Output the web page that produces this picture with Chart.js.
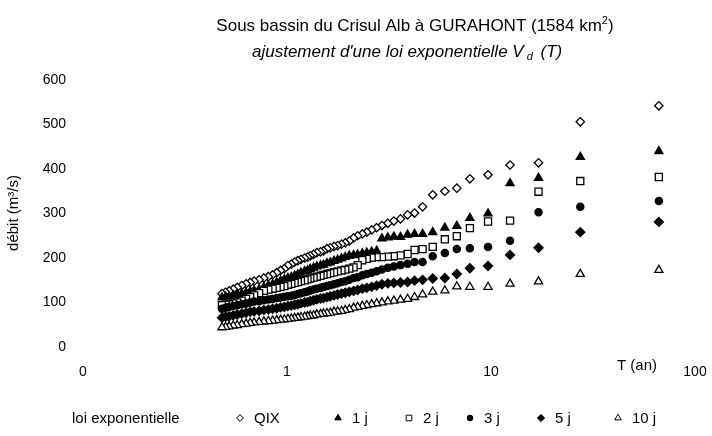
<!DOCTYPE html>
<html>
<head>
<meta charset="utf-8">
<script src="https://cdn.jsdelivr.net/npm/chart.js@4.4.1/dist/chart.umd.min.js"></script>
<style>
  html, body { margin: 0; padding: 0; background: #fff; }
</style>
</head>
<body>
<canvas id="chart" width="712" height="436"></canvas>
<script>
// return period T (years), shared by all series
const returnPeriods = [66.5, 27.4, 17.1, 12.4, 9.67, 7.88, 6.80, 5.94, 5.18, 4.62, 4.22, 3.90,
  3.60, 3.34, 3.12, 2.92, 2.75, 2.60, 2.46, 2.34, 2.22, 2.12, 2.02, 1.93, 1.85, 1.77, 1.70,
  1.63, 1.57, 1.51, 1.46, 1.40, 1.35, 1.30, 1.26, 1.22, 1.17, 1.13, 1.09, 1.05, 1.01, 0.97,
  0.93, 0.89, 0.85, 0.81, 0.77, 0.73, 0.69, 0.66, 0.63, 0.60, 0.57, 0.545, 0.52, 0.50, 0.48];

const qix = [542, 506, 414, 409, 387, 378, 357, 350, 342, 315, 301, 297,
  288, 283, 278, 273, 268, 263, 258, 254, 250, 245, 238, 234, 231, 228, 226, 223, 221, 216,
  214, 212, 208, 205, 202, 200, 197, 194, 191, 186, 183, 176, 172, 167, 162, 158, 155, 151,
  148, 145, 142, 138, 134, 130, 126, 123, 120];
const d1 = [440, 427, 380, 368, 300, 290, 272, 268, 258, 254, 254, 252,
  247, 248, 246, 244, 216, 214, 212, 210, 208, 206, 205, 202, 199, 196, 193, 190, 188, 185,
  183, 181, 178, 175, 172, 170, 167, 163, 160, 157, 155, 152, 149, 145, 141, 138, 134, 130,
  127, 125, 122, 120, 118, 116, 114, 113, 111];
const d2 = [382, 373, 349, 284, 282, 267, 249, 242, 225, 220, 218, 209,
  206, 204, 203, 202, 202, 201, 198, 195, 184, 179, 176, 174, 172, 170, 168, 166, 164, 162,
  160, 158, 156, 154, 152, 150, 148, 146, 144, 142, 140, 137, 135, 133, 131, 129, 126, 121,
  116, 112, 108, 104, 100, 98, 96, 95, 94];
const d3 = [328, 315, 303, 239, 225, 222, 220, 211, 204, 191, 191, 187,
  184, 181, 178, 174, 170, 167, 164, 161, 157, 155, 151, 148, 146, 143, 141, 139, 137, 135,
  133, 131, 129, 127, 125, 123, 121, 119, 117, 115, 114, 113, 111, 110, 108, 107, 105, 103,
  102, 100, 98, 96, 94, 92, 90, 88, 86];
const d5 = [281, 258, 223, 207, 182, 177, 164, 155, 154, 151, 149, 146,
  145, 144, 143, 141, 138, 135, 133, 131, 128, 126, 124, 122, 120, 118, 116, 114, 112, 110,
  109, 107, 105, 103, 101, 100, 98, 96, 95, 93, 92, 90, 89, 87, 86, 84, 83, 81,
  80, 79, 77, 75, 73, 71, 69, 68, 66];
const d10 = [173, 164, 147, 142, 135, 135, 136, 127, 124, 118, 112, 108,
  106, 104, 102, 100, 98, 96, 94, 92, 90, 88, 85, 83, 81, 80, 79, 77, 76, 75,
  74, 73, 71, 70, 69, 68, 67, 66, 65, 64, 63, 62, 61, 60, 59, 58, 57, 56,
  55, 54, 52, 51, 49, 48, 46, 45, 44];

const seriesNames = ['QIX', '1 j', '2 j', '3 j', '5 j', '10 j'];
const xTickValues = [0.1, 1, 10, 100];
const xTickLabels = ['0', '1', '10', '100'];
const yTickValues = [0, 100, 200, 300, 400, 500, 600];
const yTickLabels = ['0', '100', '200', '300', '400', '500', '600'];

const FONT = "'Liberation Sans', Arial, sans-serif";

const markerStyles = [
  { pointStyle: 'rectRot', radius: 4.2, fill: '#fff' },
  { pointStyle: 'triangle', radius: 4.7, fill: '#000' },
  { pointStyle: 'rect', radius: 5, fill: '#fff' },
  { pointStyle: 'circle', radius: 3.6, fill: '#000' },
  { pointStyle: 'rectRot', radius: 4.5, fill: '#000' },
  { pointStyle: 'triangle', radius: 4.7, fill: '#fff' }
];

const allSeries = [qix, d1, d2, d3, d5, d10];

const datasets = allSeries.map(function (vals, i) {
  const m = markerStyles[i];
  return {
    label: seriesNames[i],
    data: returnPeriods.map(function (t, k) { return { x: t, y: vals[k] }; }),
    pointStyle: m.pointStyle,
    pointRadius: m.radius,
    pointBackgroundColor: m.fill,
    pointBorderColor: '#000',
    pointBorderWidth: 1.3,
    showLine: false,
    order: allSeries.length - i
  };
});

function marker(ctx, style, x, y, r, fill) {
  ctx.beginPath();
  if (style === 'circle') {
    ctx.arc(x, y, r, 0, Math.PI * 2);
  } else if (style === 'rect') {
    const s = r * Math.SQRT1_2;
    ctx.rect(x - s, y - s, 2 * s, 2 * s);
  } else if (style === 'rectRot') {
    ctx.moveTo(x, y - r); ctx.lineTo(x + r, y); ctx.lineTo(x, y + r); ctx.lineTo(x - r, y);
    ctx.closePath();
  } else if (style === 'triangle') {
    ctx.moveTo(x, y - r); ctx.lineTo(x + r * 0.87, y + r * 0.5); ctx.lineTo(x - r * 0.87, y + r * 0.5);
    ctx.closePath();
  }
  ctx.fillStyle = fill;
  ctx.fill();
  ctx.strokeStyle = '#000';
  ctx.lineWidth = 1;
  ctx.stroke();
}

const textPlugin = {
  id: 'texts',
  afterDraw(chart) {
    const ctx = chart.ctx;
    ctx.save();
    ctx.fillStyle = '#000';
    ctx.textBaseline = 'alphabetic';
    ctx.textAlign = 'left';

    // title with superscript
    const t1 = 'Sous bassin du Crisul Alb à GURAHONT (1584 km';
    ctx.font = '17px ' + FONT;
    const w1 = ctx.measureText(t1).width;
    ctx.font = '11px ' + FONT;
    const wSup = ctx.measureText('2').width;
    ctx.font = '17px ' + FONT;
    const wEnd = ctx.measureText(')').width;
    let x = 415 - (w1 + wSup + wEnd) / 2;
    ctx.fillText(t1, x, 31);
    x += w1;
    ctx.font = '11px ' + FONT;
    ctx.fillText('2', x, 24);
    x += wSup;
    ctx.font = '17px ' + FONT;
    ctx.fillText(')', x, 31);

    // subtitle with subscript
    const s1 = "ajustement d'une loi exponentielle V";
    const s2 = ' (T)';
    ctx.font = 'italic 17px ' + FONT;
    const ws1 = ctx.measureText(s1).width;
    ctx.font = 'italic 11px ' + FONT;
    const wsub = ctx.measureText('d').width;
    x = 252;
    ctx.font = 'italic 17px ' + FONT;
    ctx.fillText(s1, x, 57);
    x += ws1 + 3;
    ctx.font = 'italic 11px ' + FONT;
    ctx.fillText('d', x, 60);
    x += wsub + 3;
    ctx.font = 'italic 17px ' + FONT;
    ctx.fillText(s2, x, 57);

    // y axis title
    ctx.save();
    ctx.translate(18, 213);
    ctx.rotate(-Math.PI / 2);
    ctx.textAlign = 'center';
    ctx.font = '15px ' + FONT;
    ctx.fillText('débit (m³/s)', 0, 0);
    ctx.restore();

    // x axis title
    ctx.font = '15px ' + FONT;
    ctx.fillText('T (an)', 617, 370);

    // legend
    ctx.font = '15px ' + FONT;
    ctx.fillText('loi exponentielle', 72, 423);
    const lx = [240, 338, 409, 470, 541, 618];
    seriesNames.forEach(function (name, i) {
      const m = markerStyles[i];
      marker(ctx, m.pointStyle, lx[i], 418, m.radius * 0.8, m.fill);
      ctx.fillStyle = '#000';
      ctx.fillText(name, lx[i] + 14, 423);
    });
    ctx.restore();
  }
};

new Chart(document.getElementById('chart'), {
  type: 'scatter',
  data: { datasets: datasets },
  options: {
    responsive: false,
    animation: false,
    layout: { padding: { top: 80, right: 17, bottom: 49, left: 0 } },
    plugins: { legend: { display: false }, tooltip: { enabled: false } },
    scales: {
      x: {
        type: 'logarithmic',
        min: 0.1,
        max: 100,
        grid: { display: false, drawTicks: false },
        border: { display: false },
        afterFit: function (s) { s.height = 40; s.paddingLeft = 0; s.paddingRight = 0; },
        afterBuildTicks: function (s) { s.ticks = xTickValues.map(function (v) { return { value: v }; }); },
        ticks: {
          padding: 17,
          color: '#000',
          font: { family: FONT, size: 14 },
          maxRotation: 0,
          callback: function (v, i) { return xTickLabels[i]; }
        }
      },
      y: {
        min: 0,
        max: 600,
        grid: { display: false, drawTicks: false },
        border: { display: false },
        afterFit: function (s) { s.width = 83; },
        afterBuildTicks: function (s) { s.ticks = yTickValues.map(function (v) { return { value: v }; }); },
        ticks: {
          padding: 17,
          color: '#000',
          font: { family: FONT, size: 14 },
          callback: function (v, i) { return yTickLabels[i]; }
        }
      }
    }
  },
  plugins: [textPlugin]
});
</script>
</body>
</html>
